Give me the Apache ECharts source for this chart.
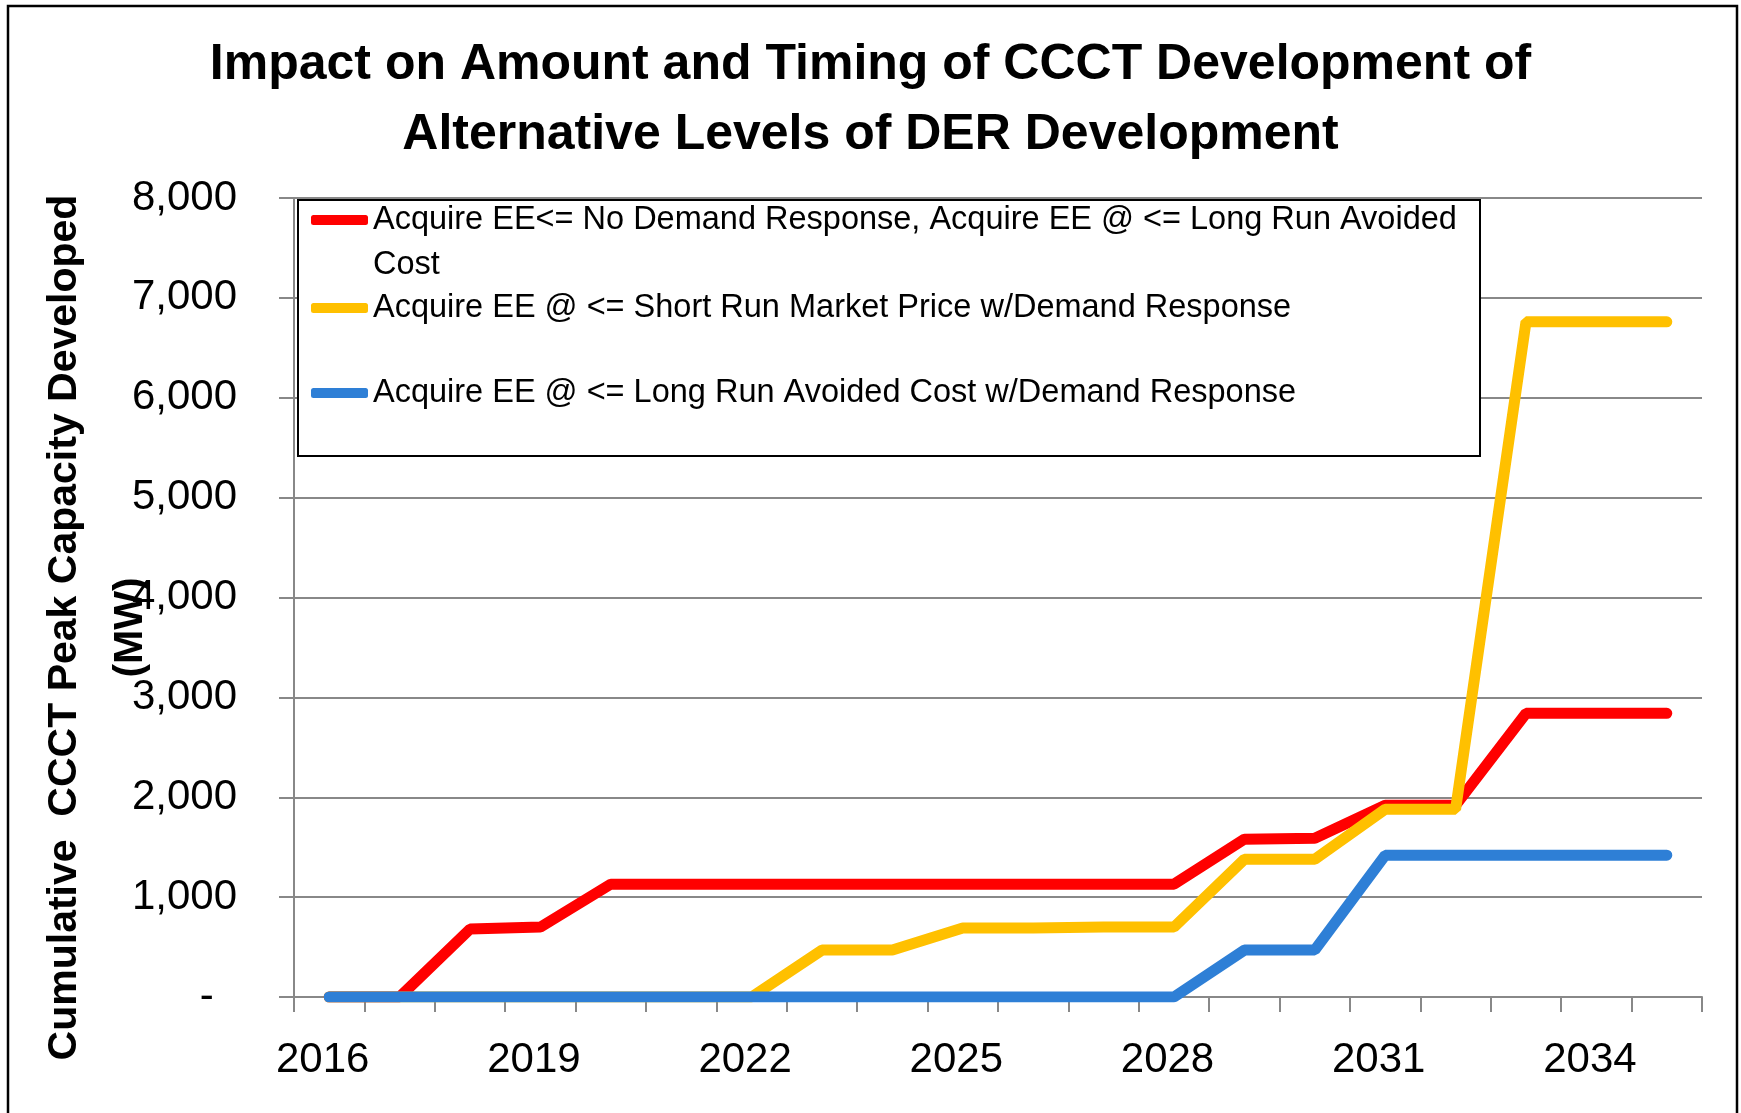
<!DOCTYPE html>
<html>
<head>
<meta charset="utf-8">
<script src="https://cdn.jsdelivr.net/npm/echarts@6/dist/echarts.min.js"></script>
<style>
html,body{margin:0;padding:0;background:#fff;}
#chart{width:1741px;height:1113px;}
</style>
</head>
<body>
<div id="chart"></div>
<script>
const years = ['2016','2017','2018','2019','2020','2021','2022','2023','2024','2025','2026','2027','2028','2029','2030','2031','2032','2033','2034','2035'];
const seriesNames = [
  'Acquire EE<= No Demand Response, Acquire EE @ <= Long Run Avoided Cost',
  'Acquire EE @ <= Short Run Market Price w/Demand Response',
  'Acquire EE @ <= Long Run Avoided Cost w/Demand Response'
];
const noDR = [0,0,680,700,1130,1130,1130,1130,1130,1130,1130,1130,1130,1580,1590,1920,1920,2840,2840,2840];
const shortRunDR = [0,0,0,0,0,0,0,470,470,690,690,700,700,1380,1380,1880,1880,6760,6760,6760];
const longRunDR = [0,0,0,0,0,0,0,0,0,0,0,0,0,470,470,1420,1420,1420,1420,1420];
const yTicks = [0,1000,2000,3000,4000,5000,6000,7000,8000];
const colors = ['#FF0000','#FFC000','#2E7FD6'];
const titleText = 'Impact on Amount and Timing of CCCT Development of\nAlternative Levels of DER Development';
const yName = 'Cumulative  CCCT Peak Capacity Developed\n(MW)';

const FONT = '"Liberation Sans", Arial, sans-serif';
const chart = echarts.init(document.getElementById('chart'), null, {renderer:'canvas'});

function lg(i, top, extra) {
  return Object.assign({
    show: true,
    left: 311,
    top: top,
    padding: 0,
    itemWidth: 57,
    itemHeight: 10,
    itemGap: 0,
    icon: 'roundRect',
    selectedMode: false,
    z: 5,
    data: [{name: seriesNames[i], icon: 'roundRect', itemStyle: {color: colors[i]}}],
    textStyle: {fontFamily: FONT, fontSize: 32.5, color: '#000', lineHeight: 45}
  }, extra || {});
}

const option = {
  animation: false,
  backgroundColor: '#fff',
  title: {
    text: titleText,
    left: 'center',
    top: 30,
    padding: 0,
    textStyle: {fontFamily: FONT, fontWeight: 'bold', fontSize: 50, lineHeight: 70, color: '#000'}
  },
  graphic: [
    {type: 'rect', z: 3, shape: {x: 298, y: 200, width: 1182, height: 256},
     style: {fill: '#fff', stroke: '#000', lineWidth: 2}},
    {type: 'rect', z: 10, shape: {x: 8, y: 6, width: 1729, height: 1130},
     style: {fill: null, stroke: '#000', lineWidth: 2.5}}
  ],
  legend: [
    lg(0, 152.5, {
      formatter: function(n){ return '\nAcquire EE<= No Demand Response, Acquire EE @ <= Long Run Avoided\nCost'; }
    }),
    lg(1, 285.5),
    lg(2, 370.5)
  ],
  grid: {left: 294, right: 39, top: 198, bottom: 116, containLabel: false, outerBoundsMode: 'none'},
  xAxis: {
    type: 'category',
    data: years,
    boundaryGap: true,
    axisLine: {show: true, lineStyle: {color: '#888', width: 2}},
    axisTick: {show: true, interval: 0, alignWithLabel: false, length: 15, lineStyle: {color: '#888', width: 2}},
    axisLabel: {interval: 2, margin: 42, fontFamily: FONT, fontSize: 42, color: '#000', padding: [0, 13, 0, 0]},
    splitLine: {show: false}
  },
  yAxis: {
    type: 'value',
    min: 0,
    max: 8000,
    interval: 1000,
    name: yName,
    nameLocation: 'middle',
    nameGap: 130,
    nameMoveOverlap: false,
    nameTextStyle: {fontFamily: FONT, fontWeight: 'bold', fontSize: 41, lineHeight: 66, color: '#000', padding: [0, 60, 0, 0]},
    axisLine: {show: true, lineStyle: {color: '#888', width: 2}},
    axisTick: {show: true, length: 15, lineStyle: {color: '#888', width: 2}},
    axisLabel: {
      margin: 57, fontFamily: FONT, fontSize: 42, color: '#000',
      formatter: function(v){ return v === 0 ? '-  ' : v.toLocaleString('en-US'); }
    },
    splitLine: {show: true, lineStyle: {color: '#888', width: 2}}
  },
  series: [
    {name: seriesNames[0], type: 'line', data: noDR, symbol: 'none', showSymbol: false, z: 2,
     itemStyle: {color: colors[0]}, lineStyle: {color: colors[0], width: 11, cap: 'round'}},
    {name: seriesNames[1], type: 'line', data: shortRunDR, symbol: 'none', showSymbol: false, z: 2,
     itemStyle: {color: colors[1]}, lineStyle: {color: colors[1], width: 11, cap: 'round'}},
    {name: seriesNames[2], type: 'line', data: longRunDR, symbol: 'none', showSymbol: false, z: 2,
     itemStyle: {color: colors[2]}, lineStyle: {color: colors[2], width: 11, cap: 'round'}}
  ]
};
chart.setOption(option);
</script>
</body>
</html>
